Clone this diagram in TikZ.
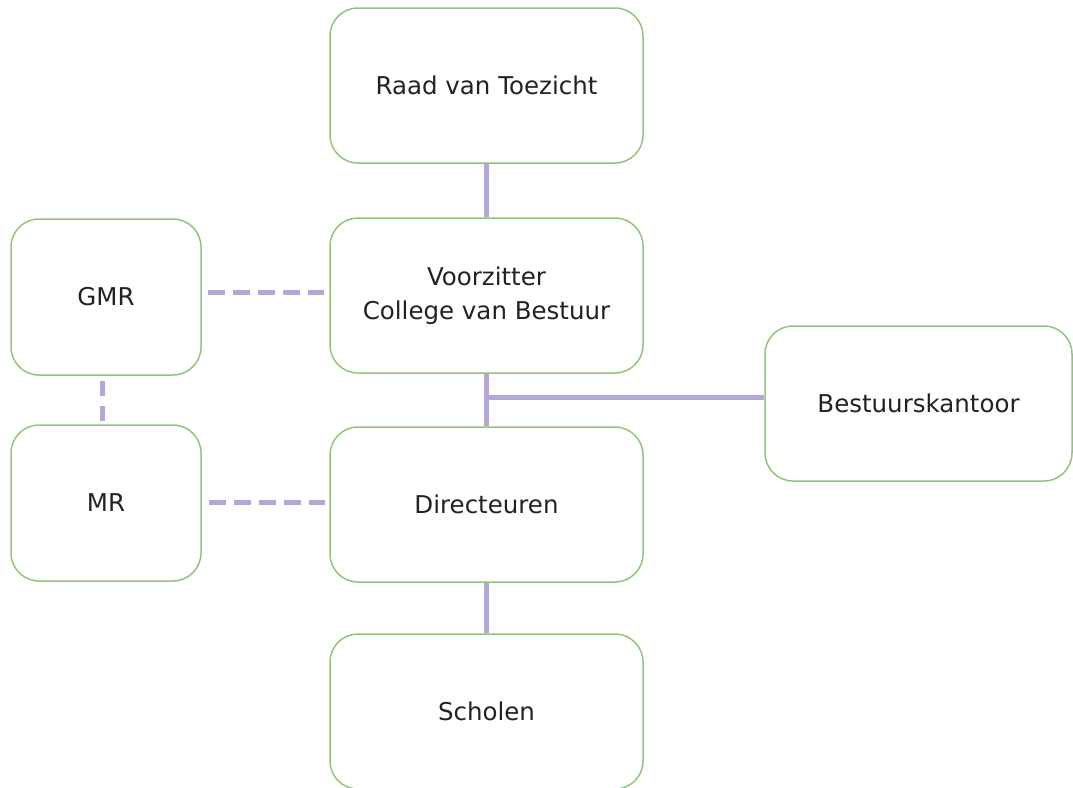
\documentclass[tikz,border=0pt]{standalone}
\usepackage{fontspec}
\setmainfont{DejaVu Sans}
\definecolor{boxgreen}{HTML}{93C47D}
\definecolor{linkpurple}{HTML}{B4A7D6}
\definecolor{txt}{HTML}{222222}
\begin{document}
\begin{tikzpicture}[x=1pt,y=-1pt,
  orgbox/.style={draw=boxgreen, line width=1.5pt, rounded corners=28pt, fill=white,
    minimum width=313pt, minimum height=155pt, inner sep=0pt, align=center,
    text=txt, font=\fontsize{24.5}{34}\selectfont},
  smallbox/.style={orgbox, minimum width=190pt, minimum height=156pt},
  solidlink/.style={draw=linkpurple, line width=5pt},
  dashlink/.style={draw=linkpurple, line width=5pt, dash pattern=on 17pt off 8pt}]
\useasboundingbox (0,0) rectangle (1073,787);
\node[orgbox] (raad) at (486.5,85.5) {Raad van Toezicht};
\node[orgbox] (vcb) at (486.5,295.5) {Voorzitter\\College van Bestuur};
\node[smallbox] (gmr) at (106,297) {GMR};
\node[smallbox] (mr) at (106,503) {MR};
\node[orgbox] (dir) at (486.5,504.5) {Directeuren};
\node[orgbox] (sch) at (486.5,711.5) {Scholen};
\node[orgbox, minimum width=307pt] (bk) at (918.5,403.5) {Bestuurskantoor};
\coordinate (j) at (486.5,397);
\draw[solidlink] (raad.south) -- (vcb.north);
\draw[solidlink] (vcb.south) -- (dir.north);
\draw[solidlink] (j) -- (j -| bk.west);
\draw[solidlink] (dir.south) -- (sch.north);
\draw[dashlink, shorten <=6pt, shorten >=5pt] ([yshift=5pt]gmr.east) -- ([yshift=5pt]gmr.east -| vcb.west);
\draw[dashlink, shorten <=7pt, shorten >=4pt] ([yshift=1pt]mr.east) -- ([yshift=1pt]mr.east -| dir.west);
\draw[dashlink, shorten <=5pt, shorten >=3pt, dash pattern=on 15pt off 10pt] ([xshift=-4pt]gmr.south) -- ([xshift=-4pt]mr.north);
\end{tikzpicture}
\end{document}
